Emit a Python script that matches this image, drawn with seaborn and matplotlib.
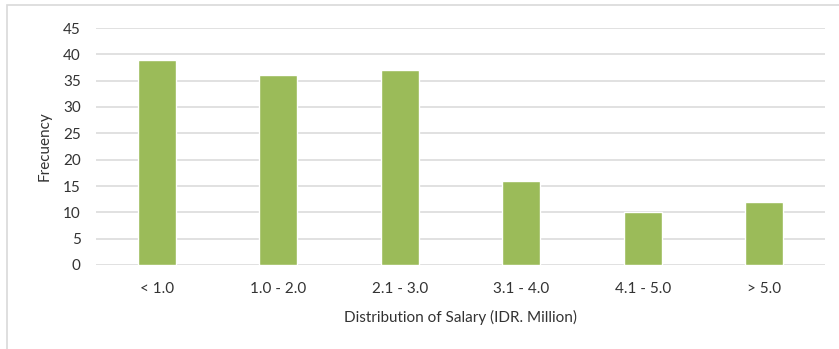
import matplotlib
matplotlib.use("Agg")
import matplotlib.pyplot as plt
from matplotlib.patches import Rectangle
import seaborn as sns
import pandas as pd

categories = ["< 1.0", "1.0 - 2.0", "2.1 - 3.0", "3.1 - 4.0", "4.1 - 5.0", "> 5.0"]
frequency = [39, 36, 37, 16, 10, 12]
y_ticks = [0, 5, 10, 15, 20, 25, 30, 35, 40, 45]

sns.set_theme(style="white")
plt.rcParams["font.family"] = ["Lato", "DejaVu Sans"]

df = pd.DataFrame({"Salary": categories, "Frequency": frequency})

W, H = 839, 349
fig = plt.figure(figsize=(W / 100, H / 100), dpi=100)
ax = fig.add_axes([96 / W, 1 - 265 / H, (825 - 96) / W, (265 - 28) / H])

sns.barplot(data=df, x="Salary", y="Frequency", color="#9BBB59",
            saturation=1, width=0.31, ax=ax, zorder=3)

ax.set_ylim(0, 45)
ax.set_xlim(-0.5, len(categories) - 0.5)
ax.set_yticks(y_ticks)
for y in y_ticks:
    ax.axhline(y, color="#D9D9D9", lw=1.1, zorder=1)

text_color = "#333333"
for s in ax.spines.values():
    s.set_visible(False)
ax.tick_params(axis="both", length=0, labelsize=11, colors=text_color)
ax.tick_params(axis="x", pad=12)
ax.tick_params(axis="y", pad=11)

ax.set_xlabel("Distribution of Salary (IDR. Million)", fontsize=11,
              color=text_color, labelpad=10)
ax.set_ylabel("Frecuency", fontsize=11, color=text_color, labelpad=8)

# light frame around the chart area
fig.patches.append(Rectangle((6.5 / W, -0.1), 1.1, 1 + 0.1 - 4.5 / H,
                             transform=fig.transFigure, fill=False,
                             edgecolor="#D9D9D9", lw=1.2))

fig.savefig("out.png", dpi=100)
